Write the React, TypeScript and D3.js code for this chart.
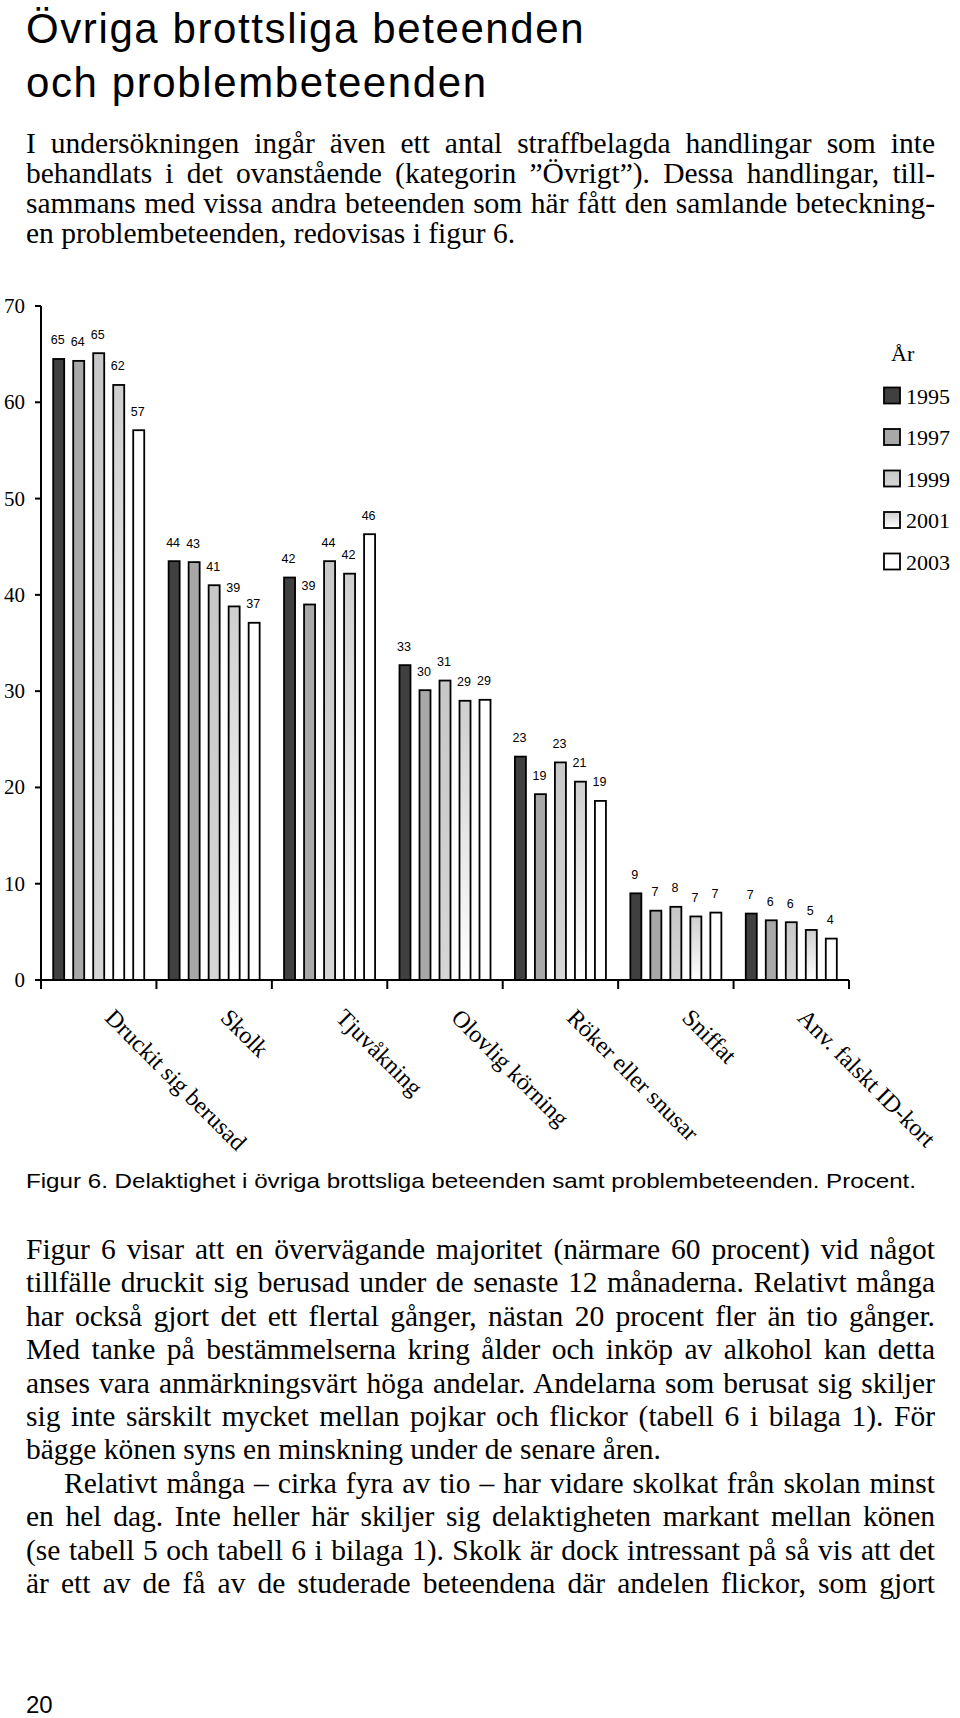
import React, { useEffect, useRef } from "react";
import * as d3 from "d3";

// ---------- data ----------
const categories = [
  "Druckit sig berusad",
  "Skolk",
  "Tjuvåkning",
  "Olovlig körning",
  "Röker eller snusar",
  "Sniffat",
  "Anv. falskt ID-kort",
];
const years = ["1995", "1997", "1999", "2001", "2003"];
const v1995 = [64.5, 43.5, 41.8, 32.7, 23.2, 9.0, 6.9];
const v1997 = [64.3, 43.4, 39.0, 30.1, 19.3, 7.2, 6.2];
const v1999 = [65.1, 41.0, 43.5, 31.1, 22.6, 7.6, 6.0];
const v2001 = [61.8, 38.8, 42.2, 29.0, 20.6, 6.6, 5.2];
const v2003 = [57.1, 37.1, 46.3, 29.1, 18.6, 7.0, 4.3];
const seriesValues = [v1995, v1997, v1999, v2001, v2003];
const yTicks = [0, 10, 20, 30, 40, 50, 60, 70];

const titleLines = ["Övriga brottsliga beteenden", "och problembeteenden"];
const para1 = [
  "I undersökningen ingår även ett antal straffbelagda handlingar som inte",
  "behandlats i det ovanstående (kategorin ”Övrigt”). Dessa handlingar, till-",
  "sammans med vissa andra beteenden som här fått den samlande beteckning-",
  "en problembeteenden, redovisas i figur 6.",
];
const caption =
  "Figur 6. Delaktighet i övriga brottsliga beteenden samt problembeteenden. Procent.";
const para2 = [
  "Figur 6 visar att en övervägande majoritet (närmare 60 procent) vid något",
  "tillfälle druckit sig berusad under de senaste 12 månaderna. Relativt många",
  "har också gjort det ett flertal gånger, nästan 20 procent fler än tio gånger.",
  "Med tanke på bestämmelserna kring ålder och inköp av alkohol kan detta",
  "anses vara anmärkningsvärt höga andelar. Andelarna som berusat sig skiljer",
  "sig inte särskilt mycket mellan pojkar och flickor (tabell 6 i bilaga 1). För",
  "bägge könen syns en minskning under de senare åren.",
  "Relativt många – cirka fyra av tio – har vidare skolkat från skolan minst",
  "en hel dag. Inte heller här skiljer sig delaktigheten markant mellan könen",
  "(se tabell 5 och tabell 6 i bilaga 1). Skolk är dock intressant på så vis att det",
  "är ett av de få av de studerade beteendena där andelen flickor, som gjort",
];
const para2Justified = [true, true, true, true, true, true, false, true, true, true, true];
const para2Indent = [0, 0, 0, 0, 0, 0, 0, 1, 0, 0, 0];
const pageNumber = "20";

// ---------- layout ----------
const W = 960;
const H = 1718;
const plotLeft = 41;
const plotRight = 849;
const plotTop = 306;
const plotBottom = 980;
const textLeft = 26;
const textRight = 935;

const fills = ["#404040", "#a8a8a8", "url(#g1999)", "url(#g2001)", "#ffffff"];
const SERIF = "'Liberation Serif', 'Times New Roman', serif";
const SANS = "'Liberation Sans', Arial, Helvetica, sans-serif";

export default function App() {
  const ref = useRef<SVGSVGElement>(null);

  const x0 = d3.scaleBand<string>().domain(categories).range([plotLeft, plotRight]).padding(0);
  const x1 = d3
    .scaleBand<string>()
    .domain(years)
    .range([0, x0.bandwidth()])
    .paddingInner(0.45)
    .paddingOuter(0.61);
  const y = d3.scaleLinear().domain([0, 70]).range([plotBottom, plotTop]);

  useEffect(() => {
    const svg = d3.select(ref.current);
    svg.selectAll<SVGTextElement, unknown>("text.just").each(function () {
      const el = this as SVGTextElement;
      const target = +(el.getAttribute("data-w") || "0");
      el.style.wordSpacing = "0px";
      const w = el.getComputedTextLength();
      const spaces = ((el.textContent || "").match(/ /g) || []).length;
      if (spaces > 0) el.style.wordSpacing = `${(target - w) / spaces}px`;
    });
  }, []);

  const p1Base = 152.5;
  const p1Step = 30;
  const p2Base = 1259;
  const p2Step = 33.4;
  const bodySize = 29.5;

  return (
    <svg
      ref={ref}
      width={W}
      height={H}
      viewBox={`0 0 ${W} ${H}`}
      style={{ position: "absolute", left: 0, top: 0, display: "block", background: "#fff" }}
    >
      <defs>
        <linearGradient id="g1999" x1="0" y1="0" x2="0" y2="1">
          <stop offset="0" stopColor="#c8c8c8" />
          <stop offset="1" stopColor="#d6d6d6" />
        </linearGradient>
        <linearGradient id="g2001" x1="0" y1="0" x2="0" y2="1">
          <stop offset="0" stopColor="#cfcfcf" />
          <stop offset="1" stopColor="#ffffff" />
        </linearGradient>
      </defs>
      <rect width={W} height={H} fill="#fff" />

      {/* title */}
      {titleLines.map((t, i) => (
        <text
          key={t}
          x={textLeft}
          y={42.5 + i * 54}
          fontFamily={SANS}
          fontSize={42}
          letterSpacing={1.6}
          fill="#000"
        >
          {t}
        </text>
      ))}

      {/* paragraph 1 */}
      {para1.map((t, i) => (
        <text
          key={t}
          className={i < para1.length - 1 ? "just" : ""}
          data-w={textRight - textLeft}
          x={textLeft}
          y={p1Base + i * p1Step}
          fontFamily={SERIF}
          fontSize={bodySize}
          fill="#000"
        >
          {t}
        </text>
      ))}

      {/* chart */}
      <g>
        {seriesValues.map((vals, si) => (
          <g key={years[si]}>
            {vals.map((v, ci) => {
              const bx = (x0(categories[ci]) as number) + (x1(years[si]) as number);
              const bw = x1.bandwidth();
              return (
                <g key={ci}>
                  <rect
                    x={bx}
                    y={y(v)}
                    width={bw}
                    height={plotBottom - y(v)}
                    fill={fills[si]}
                    stroke="#000"
                    strokeWidth={1.8}
                  />
                  <text
                    x={bx + bw / 2 - 1}
                    y={y(v) - 14.5}
                    textAnchor="middle"
                    fontFamily={SANS}
                    fontSize={12.5}
                    fill="#000"
                  >
                    {Math.round(v)}
                  </text>
                </g>
              );
            })}
          </g>
        ))}

        {/* y axis */}
        <line x1={plotLeft} x2={plotLeft} y1={plotTop} y2={plotBottom} stroke="#000" strokeWidth={2} />
        {yTicks.map((t) => (
          <g key={t}>
            <line x1={plotLeft - 6} x2={plotLeft} y1={y(t)} y2={y(t)} stroke="#000" strokeWidth={2} />
            <text
              x={25}
              y={y(t) + 7}
              textAnchor="end"
              fontFamily={SERIF}
              fontSize={21}
              fill="#000"
            >
              {t}
            </text>
          </g>
        ))}

        {/* x axis */}
        <line x1={plotLeft} x2={plotRight} y1={plotBottom} y2={plotBottom} stroke="#000" strokeWidth={2} />
        {[...categories.map((c) => x0(c) as number), plotRight].map((xx, i) => (
          <line key={i} x1={xx} x2={xx} y1={plotBottom} y2={plotBottom + 9} stroke="#000" strokeWidth={2} />
        ))}
        {categories.map((c) => {
          const cx = (x0(c) as number) + x0.bandwidth() / 2 + 5;
          return (
            <text
              key={c}
              transform={`translate(${cx},1019) rotate(45)`}
              fontFamily={SERIF}
              fontSize={24}
              fill="#000"
            >
              {c}
            </text>
          );
        })}

        {/* legend */}
        <text x={891} y={361} fontFamily={SERIF} fontSize={22} fill="#000">
          År
        </text>
        {years.map((yr, i) => (
          <g key={yr}>
            <rect
              x={884}
              y={387.5 + i * 41.5}
              width={16}
              height={16}
              fill={fills[i]}
              stroke="#000"
              strokeWidth={1.8}
            />
            <text x={906} y={403.5 + i * 41.5} fontFamily={SERIF} fontSize={22} fill="#000">
              {yr}
            </text>
          </g>
        ))}
      </g>

      {/* caption */}
      <text
        x={textLeft}
        y={1188}
        fontFamily={SANS}
        fontSize={21}
        textLength={890}
        lengthAdjust="spacingAndGlyphs"
        fill="#000"
      >
        {caption}
      </text>

      {/* paragraph 2 */}
      {para2.map((t, i) => {
        const xx = textLeft + para2Indent[i] * 38;
        return (
          <text
            key={t}
            className={para2Justified[i] ? "just" : ""}
            data-w={textRight - xx}
            x={xx}
            y={p2Base + i * p2Step}
            fontFamily={SERIF}
            fontSize={bodySize}
            fill="#000"
          >
            {t}
          </text>
        );
      })}

      {/* page number */}
      <text x={textLeft} y={1713} fontFamily={SANS} fontSize={24} fill="#000">
        {pageNumber}
      </text>
    </svg>
  );
}
